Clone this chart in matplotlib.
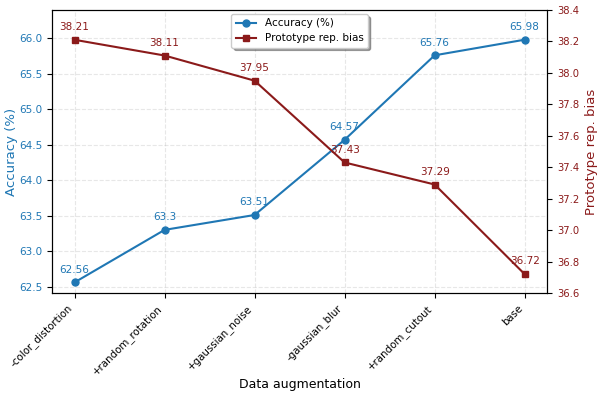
import matplotlib
matplotlib.use('Agg')
import matplotlib.pyplot as plt

steps = ['-color_distortion', '+random_rotation', '+gaussian_noise',
         '-gaussian_blur', '+random_cutout', 'base']
accuracy = [62.56, 63.3, 63.51, 64.57, 65.76, 65.98]
bias = [38.21, 38.11, 37.95, 37.43, 37.29, 36.72]

acc_color = '#1f77b4'
bias_color = '#8b1a1a'

fig, ax1 = plt.subplots(figsize=(5.98, 3.96), dpi=100)
x = list(range(len(steps)))

l1, = ax1.plot(x, accuracy, marker='o', color=acc_color, markersize=5, label='Accuracy (%)')
ax1.set_ylabel('Accuracy (%)', color=acc_color, fontsize=9.5, labelpad=0.5)
ax1.tick_params(axis='y', labelcolor=acc_color, labelsize=7.5)
ax1.tick_params(axis='x', labelsize=7.4)
ax1.set_ylim(62.41, 66.40)
ax1.set_xticks(x)
ax1.set_xticklabels(steps, rotation=45, ha='right')
ax1.set_xlabel('Data augmentation', fontsize=9, labelpad=0.5)
ax1.grid(True, linestyle='--', alpha=0.3)
for xi, v in zip(x, accuracy):
    ax1.annotate(f'{v}', (xi, v), textcoords='offset points', xytext=(0, 7),
                 ha='center', fontsize=7.5, color=acc_color)

ax2 = ax1.twinx()
l2, = ax2.plot(x, bias, marker='s', color=bias_color, markersize=5, label='Prototype rep. bias')
ax2.set_ylabel('Prototype rep. bias', color=bias_color, fontsize=9.5, labelpad=4)
ax2.tick_params(axis='y', labelcolor=bias_color, labelsize=7.2)
ax2.set_ylim(36.6, 38.4)
for xi, v in zip(x, bias):
    ax2.annotate(f'{v}', (xi, v), textcoords='offset points', xytext=(0, 7),
                 ha='center', fontsize=7.5, color=bias_color)

ax1.legend([l1, l2], [l1.get_label(), l2.get_label()], loc='upper center',
           fontsize=7.5, shadow=True, borderaxespad=0.4)

fig.subplots_adjust(left=0.087, right=0.915, top=0.975, bottom=0.26)
fig.savefig('out.png', dpi=100)
